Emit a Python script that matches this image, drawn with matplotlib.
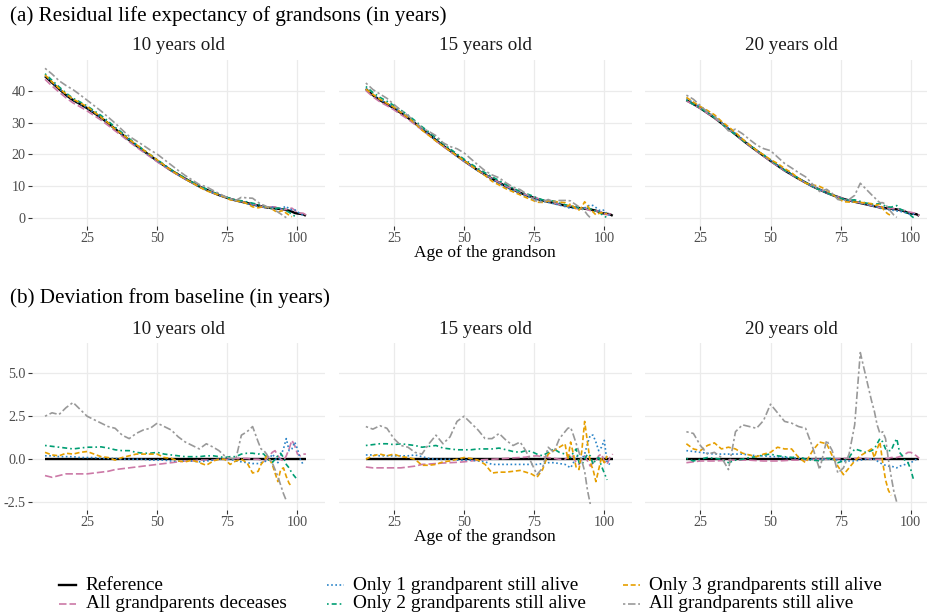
import numpy as np
import matplotlib.pyplot as plt
from matplotlib.lines import Line2D

plt.rcParams['font.family'] = ['Liberation Serif', 'DejaVu Serif']
plt.rcParams['axes.unicode_minus'] = False

# common age grid (age of the grandson)
ages = [10, 12.5, 15, 17.5, 20, 22.5, 25, 27.5, 30, 32.5, 35, 37.5, 40, 42.5, 45, 47.5,
        50, 52.5, 55, 57.5, 60, 62.5, 65, 67.5, 70, 72, 74, 76, 78, 80, 82, 84,
        86, 87, 88, 89, 90, 91, 92, 93, 94, 95, 96, 97, 98, 99, 100, 101, 102, 103]

# baseline residual life expectancy (years)
reference = [44.5, 42.5, 40.5, 38.6, 37.0, 35.8, 34.5, 33.0, 31.5, 29.8, 28.0, 26.3, 24.5,
             22.8, 21.2, 19.6, 18.0, 16.5, 15.0, 13.7, 12.4, 11.2, 10.0, 9.0, 8.0,
             7.3, 6.7, 6.1, 5.6, 5.2, 4.8, 4.4,
             4.0, 3.8, 3.6, 3.4, 3.3, 3.2, 3.1, 3.0, 2.9, 2.8, 2.6, 2.4, 2.1, 1.7, 1.5, 1.4, 1.3, 0.8]

nan = np.nan

# deviations from baseline, 10 years old (ages 10..103)
all_dec_10 = [-0.95, -1.05, -0.95, -0.85, -0.85, -0.85, -0.85, -0.8, -0.75, -0.7,
              -0.6, -0.55, -0.5, -0.45, -0.4, -0.35, -0.3, -0.25, -0.2, -0.15,
              -0.1, -0.1, -0.05, -0.05, -0.05,
              0.0, 0.0, 0.0, 0.05, 0.05, 0.05, 0.0,
              0.0, -0.05, -0.1, 0.0, 0.2, 0.4, 0.5, 0.2, 0.0, -0.1, 0.2, 0.6, 1.1, 0.8, 0.3, 0.2, 0.3, 0.3]
only1_10 = [0.2, 0.2, 0.15, 0.15, 0.15, 0.1, 0.1, 0.1, 0.05, 0.05,
            0.05, 0.0, 0.0, 0.0, 0.0, -0.05, -0.05, -0.05, -0.1, -0.1,
            -0.1, -0.1, -0.15, -0.1, -0.05,
            0.0, 0.0, 0.0, -0.1, -0.15, -0.2, -0.25,
            -0.25, -0.2, -0.15, -0.1, 0.0, 0.3, 0.1, -0.2, 0.2, 0.6, 1.2, 0.5, 0.6, 1.0, 0.6, 0.0, -0.3, nan]
only2_10 = [0.8, 0.75, 0.7, 0.65, 0.6, 0.65, 0.7, 0.7, 0.72, 0.65,
            0.55, 0.5, 0.5, 0.4, 0.35, 0.35, 0.4, 0.3, 0.25, 0.2,
            0.15, 0.15, 0.15, 0.2, 0.2,
            0.15, 0.1, 0.15, 0.15, 0.3, 0.35, 0.35,
            0.3, 0.35, 0.3, 0.1, -0.1, -0.2, 0.0, 0.2, 0.35, 0.1, -0.3, -0.5, -0.8, -1.0, -1.2, nan, nan, nan]
only3_10 = [0.4, 0.25, 0.2, 0.35, 0.3, 0.4, 0.45, 0.3, 0.15, 0.1,
            -0.05, 0.1, 0.2, 0.3, 0.3, 0.3, 0.3, 0.1, 0.05, -0.1,
            -0.15, -0.05, -0.2, -0.35, -0.1,
            0.0, 0.0, -0.3, -0.1, 0.0, -0.2, -0.8,
            -0.7, -0.3, -0.1, 0.2, 0.0, -0.3, -0.8, -1.3, -0.6, -0.5, -1.0, -1.4, -1.6, nan, nan, nan, nan, nan]
all_alive_10 = [2.5, 2.7, 2.6, 3.0, 3.3, 2.9, 2.5, 2.3, 2.1, 1.9,
                1.8, 1.4, 1.2, 1.5, 1.7, 1.8, 2.1, 1.9, 1.7, 1.3,
                1.0, 0.8, 0.6, 0.9, 0.7,
                0.5, 0.2, 0.05, 0.0, 1.4, 1.6, 1.9,
                1.0, 0.6, 0.5, 0.3, 0.0, -0.2, -0.6, -1.0, -1.5, -2.0, -2.4, nan, nan, nan, nan, nan, nan, nan]

# 15 years old (ages 15..103)
all_dec_15 = [-0.45, -0.5, -0.5, -0.5, -0.5, -0.5, -0.45, -0.4, -0.3, -0.28,
              -0.25, -0.22, -0.2, -0.18, -0.15, -0.1, -0.05, -0.02, 0.0, 0.02,
              0.05, 0.08, 0.1,
              0.12, 0.18, 0.2, 0.15, 0.1, 0.05, 0.0,
              0.0, 0.1, 0.3, 0.1, -0.2, -0.3, 0.0, 0.2, -0.1, -0.4, -0.2, -0.1, 0.2, 0.3, -0.1, -0.3, 0.1, 0.3]
only1_15 = [0.25, 0.25, 0.2, 0.2, 0.2, 0.2, 0.2, 0.25, 0.15, 0.05,
            0.0, 0.0, 0.0, -0.05, -0.05, -0.05, -0.1, -0.15, -0.3, -0.3,
            -0.3, -0.3, -0.3,
            -0.3, -0.3, -0.3, -0.25, -0.2, -0.2, -0.25,
            -0.3, -0.4, -0.5, -0.2, 0.2, 0.1, 0.0, 0.3, 0.9, 1.4, 1.4, 1.0, 0.5, 0.7, 1.1, -0.2, -0.3, nan]
only2_15 = [0.8, 0.85, 0.9, 0.9, 0.85, 0.9, 0.85, 0.8, 0.7, 0.75,
            0.8, 0.65, 0.6, 0.55, 0.55, 0.55, 0.6, 0.6, 0.6, 0.65,
            0.55, 0.45, 0.4,
            0.5, 0.45, 0.3, 0.2, 0.4, 0.6, 0.4,
            0.3, 0.2, 0.1, 0.4, 0.6, -0.2, -0.3, 0.0, 0.3, 0.2, -0.3, 0.0, 0.1, -0.4, -0.8, -1.2, nan, nan]
only3_15 = [0.0, 0.2, 0.3, 0.2, 0.3, 0.15, 0.1, 0.0, -0.35, -0.35,
            -0.3, -0.15, -0.1, 0.0, 0.1, 0.05, -0.05, -0.3, -0.8, -0.75,
            -0.75, -0.7, -0.65,
            -0.75, -0.85, -1.05, -0.6, 0.3, 0.5, 0.7,
            0.9, 0.0, 1.0, 0.3, -0.5, -0.6, 0.5, 2.2, 1.0, -0.2, -0.6, -1.3, -0.6, 0.1, -0.2, 0.2, nan, nan]
all_alive_15 = [1.9, 1.75, 1.95, 1.8, 1.2, 0.8, 0.7, 0.4, 0.3, 0.9,
                1.4, 0.9, 1.3, 2.2, 2.5, 2.1, 1.7, 1.2, 1.2, 1.5,
                1.1, 0.8, 1.0,
                0.5, -0.2, -0.9, -0.5, 0.7, 0.4, 1.2,
                1.6, 1.8, 1.85, 1.4, 0.9, 0.4, -0.1, -0.7, -1.8, -2.6, nan, nan, nan, nan, nan, nan, nan, nan]

# 20 years old (ages 20..103)
all_dec_20 = [-0.2, -0.15, -0.1, -0.1, -0.1, -0.08, -0.05, -0.05, -0.05, -0.05,
              -0.08, -0.1, -0.1, -0.1, -0.08, -0.05, -0.05, -0.03, 0.0, 0.0,
              0.0,
              0.02, 0.03, 0.05, 0.05, 0.05, 0.05, 0.05,
              0.0, 0.0, 0.0, 0.0, 0.0, 0.05, 0.05, 0.1, 0.1, 0.1, 0.15, 0.2, 0.3, 0.4, 0.4, 0.3, 0.2, 0.05]
only1_20 = [0.5, 0.45, 0.4, 0.35, 0.3, 0.3, 0.3, 0.3, 0.3, 0.25,
            0.2, 0.2, 0.15, 0.15, 0.1, 0.1, 0.05, 0.05, 0.0, 0.0,
            0.0,
            0.0, -0.05, -0.1, -0.1, -0.1, -0.05, 0.0,
            0.0, 0.0, -0.1, -0.2, -0.3, -0.35, -0.4, -0.4, -0.45, -0.5, -0.4, -0.35, -0.3, -0.2, -0.2, -0.1, 0.0, nan]
only2_20 = [0.05, -0.1, 0.0, 0.1, 0.05, 0.0, -0.2, -0.05, 0.0, 0.1,
            0.15, 0.25, 0.3, 0.2, 0.15, 0.1, 0.15, 0.0, -0.05, -0.1,
            0.05,
            0.05, -0.2, -0.1, 0.1, 0.6, 0.5, 0.4,
            0.5, 0.6, 0.9, 1.2, 1.0, 0.6, 0.5, 0.5, 0.9, 1.2, 0.4, 0.2, -0.1, -0.2, -0.6, -1.2, nan, nan]
only3_20 = [0.9, 0.6, 0.5, 0.8, 0.95, 0.6, 0.7, 0.6, 0.35, 0.25,
            0.15, 0.3, 0.4, 0.7, 0.6, 0.6, 0.1, -0.2, 0.5, 1.0,
            0.9,
            0.2, -0.4, -0.9, -0.5, -0.1, 0.2, 0.4,
            0.6, 0.1, 0.6, 1.0, -0.2, -1.2, -1.8, -2.1, nan, nan, nan, nan, nan, nan, nan, nan, nan, nan]
all_alive_20 = [1.6, 1.5, 0.8, 0.3, 0.4, 0.1, -0.6, 1.6, 2.0, 1.9,
                1.8, 2.25, 3.2, 2.7, 2.2, 2.1, 1.9, 1.8, 0.7, -0.6,
                1.1,
                0.5, -0.8, -0.5, 0.3, 2.0, 6.2, 4.8,
                3.4, 2.8, 2.0, 1.5, 1.6, 1.2, 0.0, -1.0, -1.9, -2.5, nan, nan, nan, nan, nan, nan, nan, nan]

panel_titles = ['10 years old', '15 years old', '20 years old']
panel_start = [0, 2, 4]  # index in ages where each panel starts
groups = ['Reference', 'All grandparents deceases', 'Only 1 grandparent still alive',
          'Only 2 grandparents still alive', 'Only 3 grandparents still alive',
          'All grandparents still alive']
devs = [
    [all_dec_10, only1_10, only2_10, only3_10, all_alive_10],
    [all_dec_15, only1_15, only2_15, only3_15, all_alive_15],
    [all_dec_20, only1_20, only2_20, only3_20, all_alive_20],
]

colors = ['black', '#CC79A7', '#2A84C8', '#009E73', '#E69F00', '#999999']
dashes = [None, (4.5, 1.8), (1, 1.5), (1, 1.8, 3, 1.8), (3, 1.6), (1.4, 1.6, 4.5, 1.6)]
widths = [1.7, 1.2, 1.2, 1.2, 1.2, 1.2]

W, H = 927, 616
fig = plt.figure(figsize=(W / 100, H / 100), dpi=100)


def px_axes(left, top, width, height):
    return fig.add_axes([left / W, 1 - (top + height) / H, width / W, height / H])


col_left = [31.7, 338.5, 645]
pw = 293
rows = [(60, 166, (-2.4, 49.6), [0, 10, 20, 30, 40], ['0', '10', '20', '30', '40']),
        (343.3, 166.7, (-2.95, 6.74), [-2.5, 0, 2.5, 5.0], ['-2.5', '0.0', '2.5', '5.0'])]

for r, (top, ph, ylim, yt, ytl) in enumerate(rows):
    for c in range(3):
        ax = px_axes(col_left[c], top, pw, ph)
        a = np.array(ages[panel_start[c]:])
        ref = np.array(reference[panel_start[c]:])
        base = ref if r == 0 else ref - ref
        ax.plot(a, base, color=colors[0], lw=widths[0], solid_capstyle='butt')
        for k, d in enumerate(devs[c]):
            y = np.array(d) + (ref if r == 0 else 0)
            ln, = ax.plot(a, y, color=colors[k + 1], lw=widths[k + 1])
            ln.set_dashes(dashes[k + 1])
        ax.set_xlim(5.25, 109.7)
        ax.set_ylim(*ylim)
        ax.set_xticks([25, 50, 75, 100])
        ax.set_yticks(yt)
        for s in ax.spines.values():
            s.set_visible(False)
        ax.grid(True, color='#EBEBEB', lw=0.9)
        ax.set_axisbelow(True)
        ax.tick_params(axis='both', length=2.8, width=0.8, color='#333333',
                       labelsize=10.2, labelcolor='#4D4D4D', pad=1.5)
        if c == 0:
            ax.set_yticklabels(ytl)
        else:
            ax.tick_params(axis='y', length=0, labelleft=False)
        fig.text((col_left[c] + pw / 2) / W, 1 - (top - 14) / H, panel_titles[c],
                 ha='center', va='center', fontsize=13.7, color='#1A1A1A')
    fig.text((338.5 + pw / 2) / W, 1 - (top + ph + 27) / H, 'Age of the grandson',
             ha='center', va='center', fontsize=12.5, color='black')

fig.text(10 / W, 1 - 16 / H, '(a) Residual life expectancy of grandsons (in years)',
         ha='left', va='center', fontsize=15.2)
fig.text(10 / W, 1 - 298 / H, '(b) Deviation from baseline (in years)',
         ha='left', va='center', fontsize=15.2)

# legend, three columns of two rows
text_x = [85.7, 353.3, 649]
row_y = [585, 603.5]
for k, g in enumerate(groups):
    c, rr = divmod(k, 2)
    x0 = text_x[c] - 26.5
    yf = 1 - row_y[rr] / H
    ln = Line2D([x0 / W, (x0 + 17) / W], [yf, yf], transform=fig.transFigure,
                color=colors[k], lw=widths[k])
    if dashes[k] is not None:
        ln.set_dashes(dashes[k])
    fig.add_artist(ln)
    fig.text(text_x[c] / W, yf, g, ha='left', va='center', fontsize=13.9)

fig.savefig('out.png', dpi=100)
